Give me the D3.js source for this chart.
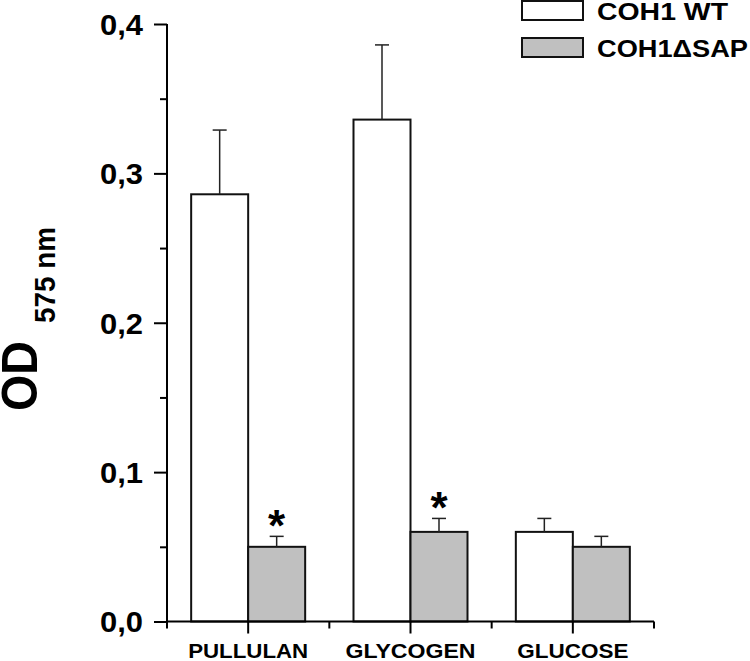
<!DOCTYPE html>
<html>
<head>
<meta charset="utf-8">
<script src="https://cdn.jsdelivr.net/npm/d3@7"></script>
<style>
  body { margin: 0; background: #fff; }
  text { font-family: "Liberation Sans", Arial, sans-serif; font-weight: bold; fill: #000; }
</style>
</head>
<body>
<svg id="chart" width="750" height="661"></svg>
<script>
'use strict';

// values (OD 575 nm)
const categories = ['PULLULAN', 'GLYCOGEN', 'GLUCOSE'];
const series = ['COH1 WT', 'COH1\u0394SAP'];
const wtValues = [0.286, 0.336, 0.060];
const wtErrors = [0.043, 0.050, 0.009];
const sapValues = [0.050, 0.060, 0.050];
const sapErrors = [0.007, 0.009, 0.007];
const significant = [true, true, false]; // asterisk over the SAP bar
const yTicks = [0, 0.1, 0.2, 0.3, 0.4];
const yMinorTicks = [0.05, 0.15, 0.25, 0.35];

const colours = { 'COH1 WT': '#ffffff', 'COH1\u0394SAP': '#c0c0c0' };

const rows = categories.map((c, i) => [
    { cat: c, s: series[0], v: wtValues[i], e: wtErrors[i], star: false },
    { cat: c, s: series[1], v: sapValues[i], e: sapErrors[i], star: significant[i] }
]).flat();

const svg = d3.select('#chart');

const x = d3.scaleBand().domain(categories).range([167, 654]).padding(0);
const xSub = d3.scaleBand().domain(series).range([0, x.bandwidth()]).paddingInner(0).paddingOuter(0.424);
const y = d3.scaleLinear().domain([0, 0.4]).range([621.5, 24]);

// bars
svg.append('g')
    .selectAll('rect')
    .data(rows)
    .enter()
    .append('rect')
    .attr('x', (d) => x(d.cat) + xSub(d.s))
    .attr('y', (d) => y(d.v))
    .attr('width', xSub.bandwidth())
    .attr('height', (d) => y(0) - y(d.v))
    .attr('fill', (d) => colours[d.s])
    .attr('stroke', '#111')
    .attr('stroke-width', 2);

// error bars (upper half only)
let err = svg.append('g').attr('stroke', '#222').attr('stroke-width', 1.5);
rows.forEach((d) => {
    let cx = x(d.cat) + xSub(d.s) + xSub.bandwidth() / 2;
    err.append('line')
        .attr('x1', cx).attr('x2', cx)
        .attr('y1', y(d.v)).attr('y2', y(d.v + d.e));
    err.append('line')
        .attr('x1', cx - 7).attr('x2', cx + 7)
        .attr('y1', y(d.v + d.e)).attr('y2', y(d.v + d.e));
});

// significance stars
svg.append('g')
    .selectAll('text')
    .data(rows.filter((d) => d.star))
    .enter()
    .append('text')
    .attr('x', (d) => x(d.cat) + xSub(d.s) + xSub.bandwidth() / 2)
    .attr('y', (d) => y(d.v + d.e) + 5)
    .attr('text-anchor', 'middle')
    .style('font-size', '44px')
    .text('*');

// y axis
const fmt = (v) => d3.format('.1f')(v).replace('.', ',');

let yAxis = svg.append('g')
    .attr('transform', 'translate(167,0)')
    .call(d3.axisLeft(y).tickValues(yTicks).tickSize(13).tickPadding(11).tickFormat(fmt));
yAxis.selectAll('text')
    .style('font-size', '29px')
    .attr('dy', '0.36em')
    .attr('textLength', 43)
    .attr('lengthAdjust', 'spacingAndGlyphs');

svg.append('g')
    .attr('transform', 'translate(167,0)')
    .call(d3.axisLeft(y).tickValues(yMinorTicks).tickSize(7).tickFormat(''))
    .select('.domain').remove();

// x axis
let xAxis = svg.append('g')
    .attr('transform', `translate(0,${y(0)})`)
    .call(d3.axisBottom(x).tickSize(12).tickPadding(10));
xAxis.selectAll('text')
    .style('font-size', '21px')
    .attr('dy', '0.71em')
    .attr('textLength', (d) => ({ 'PULLULAN': 120, 'GLYCOGEN': 130, 'GLUCOSE': 111 })[d])
    .attr('lengthAdjust', 'spacingAndGlyphs');

let bounds = categories.map((c) => x(c)).concat([x.range()[1]]);
svg.append('g')
    .attr('transform', `translate(0,${y(0)})`)
    .selectAll('line')
    .data(bounds)
    .enter()
    .append('line')
    .attr('x1', (d) => d).attr('x2', (d) => d)
    .attr('y1', 0).attr('y2', 7)
    .attr('stroke', '#000').attr('stroke-width', 2);

svg.selectAll('.domain').attr('stroke', '#000').attr('stroke-width', 2);
svg.selectAll('.tick line').attr('stroke', '#000').attr('stroke-width', 2);
xAxis.select('.domain').attr('d', `M${x.range()[0]},0H${x.range()[1]}`);
yAxis.select('.domain').attr('d', `M0,${y(0)}V${y(0.4)}`);

// y title: OD with subscript, read bottom to top
svg.append('text')
    .attr('transform', 'translate(37,411) rotate(-90)')
    .style('font-size', '50px')
    .attr('textLength', 70)
    .attr('lengthAdjust', 'spacingAndGlyphs')
    .text('OD');
svg.append('text')
    .attr('transform', 'translate(55,323) rotate(-90)')
    .style('font-size', '29px')
    .attr('textLength', 96)
    .attr('lengthAdjust', 'spacingAndGlyphs')
    .text('575 nm');

// legend
let legend = svg.append('g');
series.forEach((s, i) => {
    legend.append('rect')
        .attr('x', 522).attr('y', 1 + i * 37)
        .attr('width', 61).attr('height', 19)
        .attr('fill', colours[s])
        .attr('stroke', '#111')
        .attr('stroke-width', 2);
    legend.append('text')
        .attr('x', 597).attr('y', 20 + i * 37)
        .style('font-size', '23px')
        .attr('textLength', i === 0 ? 131 : 151)
        .attr('lengthAdjust', 'spacingAndGlyphs')
        .text(s);
});
</script>
</body>
</html>
